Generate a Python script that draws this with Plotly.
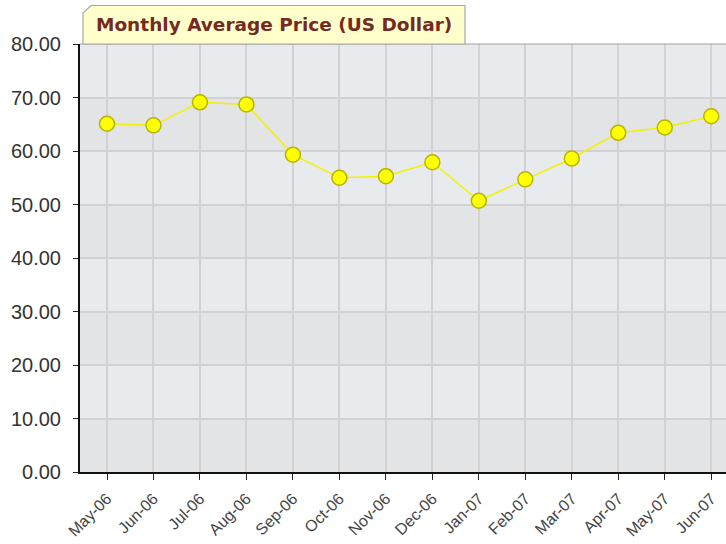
import plotly.graph_objects as go

months = ["May-06", "Jun-06", "Jul-06", "Aug-06", "Sep-06", "Oct-06", "Nov-06",
          "Dec-06", "Jan-07", "Feb-07", "Mar-07", "Apr-07", "May-07", "Jun-07"]
prices = [65.1, 64.8, 69.1, 68.7, 59.3, 55.0, 55.3, 57.9, 50.7, 54.7, 58.6, 63.4, 64.4, 66.5]
y_ticks = [0, 10, 20, 30, 40, 50, 60, 70, 80]
title_text = "Monthly Average Price (US Dollar)"

W, H = 726, 544
L, R, T, B = 80, 0, 44, 72
pw, ph = W - L - R, H - T - B

def px(x):
    return (x - L) / pw

def py(y):
    return (H - B - y) / ph

fig = go.Figure()
fig.add_trace(go.Scatter(
    x=list(range(len(months))), y=prices, mode="lines+markers",
    line=dict(color="#f2f200", width=1.5),
    marker=dict(size=15, color="#ffff00", line=dict(color="#b5b500", width=1.5)),
    hoverinfo="x+y", showlegend=False,
))

shapes = []
for i in range(len(y_ticks) - 1):
    shapes.append(dict(type="rect", xref="paper", yref="y", x0=0, x1=1,
                       y0=y_ticks[i], y1=y_ticks[i + 1], layer="below", line_width=0,
                       fillcolor="#e3e4e6" if i % 2 == 0 else "#e8ebee"))
shapes.append(dict(type="line", xref="paper", yref="paper", x0=0, x1=1, y0=1, y1=1,
                   line=dict(color="#a0a0a0", width=1)))
x0, x1 = px(83), px(465)
ytop, ycut, ybot = py(5.5), py(13), py(44)
xcut = px(91)
shapes.append(dict(type="path", xref="paper", yref="paper",
                   path=f"M {x0},{ybot} L {x0},{ycut} L {xcut},{ytop} L {x1},{ytop} L {x1},{ybot} Z",
                   fillcolor="#ffffcc", line=dict(color="#a8a8a8", width=1.2), layer="above"))

fig.update_layout(
    width=W, height=H,
    margin=dict(l=L, r=R, t=T, b=B, autoexpand=False),
    paper_bgcolor="white", plot_bgcolor="#e8ebee",
    shapes=shapes,
    annotations=[dict(text="<b>" + title_text + "</b>", xref="paper", yref="paper",
                      x=(x0 + x1) / 2, y=(ytop + ybot) / 2, xanchor="center", yanchor="middle",
                      showarrow=False,
                      font=dict(family="DejaVu Sans", size=18.5, color="#742a20"))],
    xaxis=dict(
        tickmode="array", tickvals=list(range(len(months))), ticktext=months,
        range=[-27 / 46.48, (W - 107) / 46.48],
        tickangle=-45, ticks="outside", ticklen=6, tickcolor="#222",
        ticklabelstandoff=3, automargin=False,
        tickfont=dict(family="Liberation Sans, Arial", size=16, color="#444"),
        showgrid=True, gridcolor="#d2d2d2", gridwidth=1.5,
        showline=True, linecolor="#111", linewidth=2, zeroline=False,
    ),
    yaxis=dict(
        range=[0, 80], tickmode="array", tickvals=y_ticks,
        ticktext=[f"{v:.2f}" for v in y_ticks],
        ticks="outside", ticklen=5, tickcolor="#222",
        ticklabelstandoff=8, automargin=False,
        tickfont=dict(family="Liberation Sans, Arial", size=20, color="#333"),
        showgrid=True, gridcolor="#d2d2d2", gridwidth=1.5,
        showline=True, linecolor="#111", linewidth=2, zeroline=False,
    ),
)

fig.write_html("out.html", config={"displayModeBar": False},
               post_script="document.body.style.margin='0';document.body.style.overflow='hidden';")
